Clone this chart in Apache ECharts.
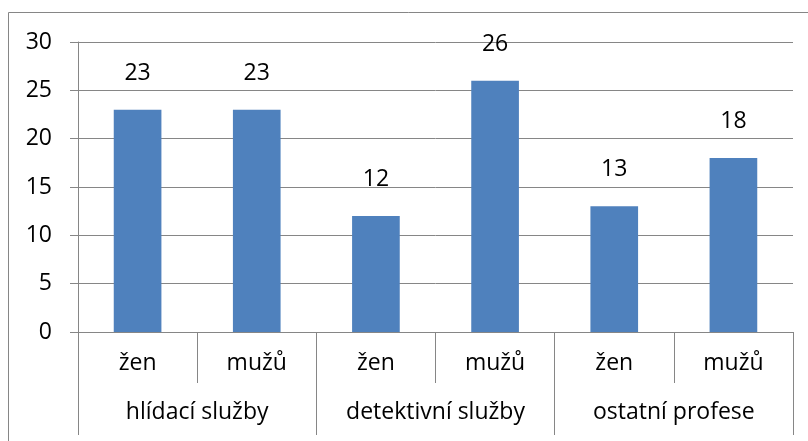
<!DOCTYPE html>
<html>
<head>
<meta charset="utf-8">
<script src="https://cdn.jsdelivr.net/npm/echarts@6/dist/echarts.min.js"></script>
<style>
html,body{margin:0;padding:0;background:#fff;}
#c{width:808px;height:441px;}
</style>
</head>
<body>
<div id="c"></div>
<script>
const subCategories = ["žen", "mužů", "žen", "mužů", "žen", "mužů"];
const groups = ["hlídací služby", "detektivní služby", "ostatní profese"];
const values = [23, 23, 12, 26, 13, 18];
const yTicks = [0, 5, 10, 15, 20, 25, 30];

const FONT = 'Open Sans';
const FS = 23;
const GRAY = '#868686';

const chart = echarts.init(document.getElementById('c'));
chart.setOption({
  animation: false,
  backgroundColor: '#fff',
  textStyle: { fontFamily: FONT },
  grid: { left: 78, right: 15, top: 42, bottom: 109, containLabel: false },
  graphic: [{
    type: 'rect',
    shape: { x: 8.5, y: 12.5, width: 900, height: 600 },
    style: { fill: 'none', stroke: GRAY, lineWidth: 1 },
    silent: true, z: 100
  }],
  xAxis: [{
    type: 'category',
    data: subCategories,
    position: 'bottom',
    axisLine: { show: true, lineStyle: { color: GRAY, width: 1 } },
    axisTick: { show: true, interval: 0, length: 51, lineStyle: { color: GRAY } },
    axisLabel: { interval: 0, margin: 20, color: '#000', fontSize: FS, fontFamily: FONT },
    splitLine: { show: false }
  }, {
    type: 'category',
    data: groups,
    position: 'bottom',
    offset: 0,
    axisLine: { show: false },
    axisTick: { show: true, interval: 0, length: 103, lineStyle: { color: GRAY } },
    axisLabel: { interval: 0, margin: 69, color: '#000', fontSize: FS, fontFamily: FONT },
    splitLine: { show: false }
  }],
  yAxis: {
    type: 'value',
    min: yTicks[0],
    max: yTicks[yTicks.length - 1],
    interval: yTicks[1] - yTicks[0],
    axisLine: { show: true, lineStyle: { color: GRAY } },
    axisTick: { show: true, length: 8, lineStyle: { color: GRAY } },
    axisLabel: { margin: 26, color: '#000', fontSize: FS, fontFamily: FONT },
    splitLine: { show: true, lineStyle: { color: GRAY, width: 1 } }
  },
  series: [{
    type: 'bar',
    xAxisIndex: 0,
    data: values,
    barWidth: '40%',
    itemStyle: { color: '#4F81BD' },
    label: { show: true, position: 'top', distance: 25, color: '#000', fontSize: FS, fontFamily: FONT }
  }]
});
</script>
</body>
</html>
